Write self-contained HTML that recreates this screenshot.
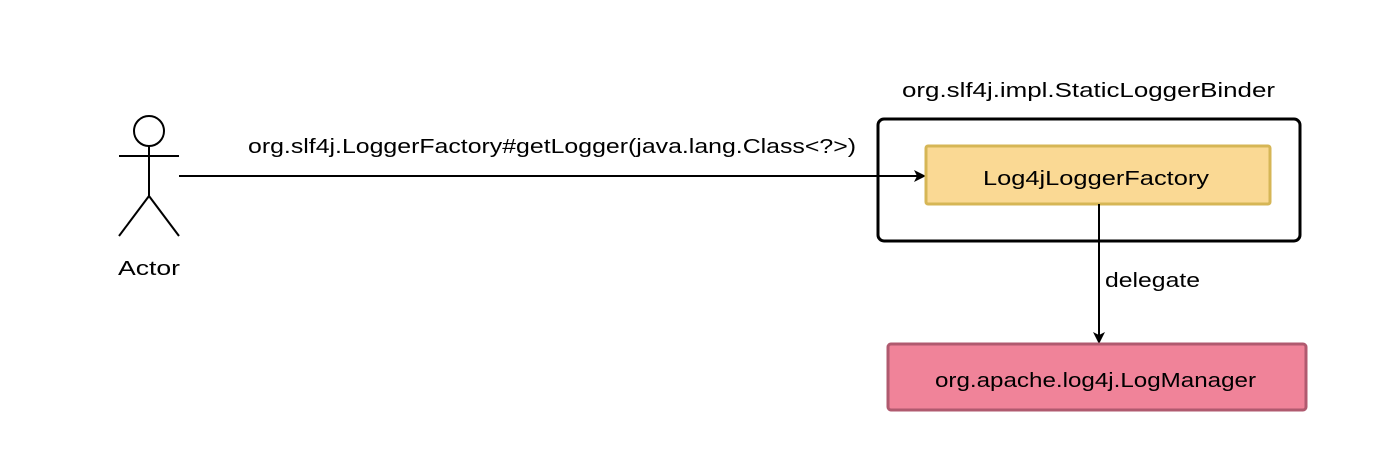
<!DOCTYPE html>
<html><head><meta charset="utf-8"><style>
html,body{margin:0;padding:0;background:#fff;}
svg text{font-family:"Liberation Sans",sans-serif;font-size:20px;fill:#000;}
</style></head><body>
<svg width="1374" height="470" viewBox="0 0 1374 470" xmlns="http://www.w3.org/2000/svg">
<defs><marker id="a" markerWidth="12" markerHeight="12" refX="10" refY="6" orient="auto" markerUnits="userSpaceOnUse"><path d="M0,0 L12,6 L0,12 L3,6 Z" fill="#000"/></marker></defs>
<g stroke="#000" stroke-width="2" fill="none">
<circle cx="149" cy="131" r="15" fill="#fff"/>
<line x1="149" y1="146" x2="149" y2="196"/>
<line x1="119" y1="156" x2="179" y2="156"/>
<line x1="149" y1="196" x2="119" y2="236"/>
<line x1="149" y1="196" x2="179" y2="236"/>
</g>
<text x="118" y="275" textLength="62" lengthAdjust="spacingAndGlyphs">Actor</text>
<rect x="878" y="119" width="422" height="122" rx="6" fill="#fff" stroke="#000" stroke-width="3"/>
<text x="902" y="97" textLength="373" lengthAdjust="spacingAndGlyphs">org.slf4j.impl.StaticLoggerBinder</text>
<line x1="179" y1="176" x2="924" y2="176" stroke="#000" stroke-width="2" marker-end="url(#a)"/>
<text x="248" y="153" textLength="608" lengthAdjust="spacingAndGlyphs">org.slf4j.LoggerFactory#getLogger(java.lang.Class&lt;?&gt;)</text>
<rect x="926" y="146" width="344" height="58" rx="2" fill="#fad994" stroke="#d6b656" stroke-width="3"/>
<text x="983" y="185" textLength="226" lengthAdjust="spacingAndGlyphs">Log4jLoggerFactory</text>
<line x1="1099" y1="204" x2="1099" y2="342" stroke="#000" stroke-width="2" marker-end="url(#a)"/>
<text x="1105" y="287" textLength="95" lengthAdjust="spacingAndGlyphs">delegate</text>
<rect x="888" y="344" width="418" height="66" rx="3" fill="#f08399" stroke="#b05a6f" stroke-width="3"/>
<text x="935" y="387" textLength="321" lengthAdjust="spacingAndGlyphs">org.apache.log4j.LogManager</text>
</svg>
</body></html>
